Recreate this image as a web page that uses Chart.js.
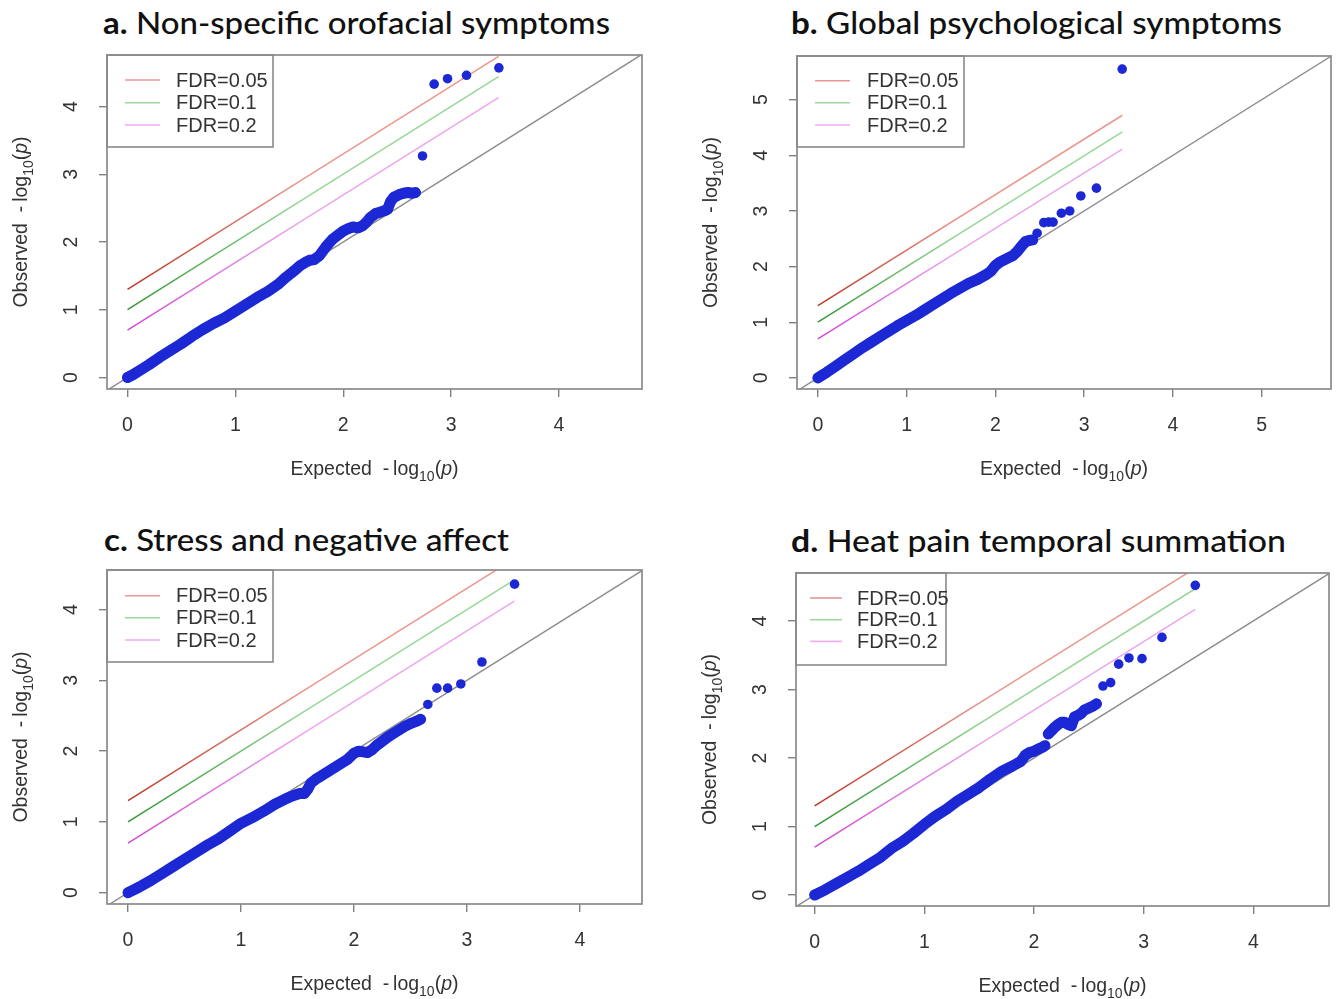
<!DOCTYPE html>
<html>
<head>
<meta charset="utf-8">
<script src="https://cdn.jsdelivr.net/npm/chart.js@4.4.1/dist/chart.umd.min.js"></script>
<style>
html,body{margin:0;padding:0;background:#fff;}
#page{position:relative;width:1341px;height:999px;overflow:hidden;background:#fff;}
.ttl{position:absolute;white-space:nowrap;font-family:Lato,"Open Sans",sans-serif;font-size:31px;font-weight:500;line-height:1.2;color:#111;transform-origin:0 0;}
.ttl b{font-weight:700;}
</style>
</head>
<body>
<div id="page"></div>
<script>
// ---------------- data ----------------
const panelKeys = ['a', 'b', 'c', 'd'];
const titleTags = ['a.', 'b.', 'c.', 'd.'];
const titleTexts = ['Non-specific orofacial symptoms', 'Global psychological symptoms', 'Stress and negative affect', 'Heat pain temporal summation'];
const xAxisWord = 'Expected';
const yAxisWord = 'Observed';
const fdrLabels = ['FDR=0.05', 'FDR=0.1', 'FDR=0.2'];
const fdrStartX = 0;
const fdrStartY = [1.3, 1.0, 0.7];

// panel a
const aXLim = [-0.19, 4.77];
const aYLim = [-0.17, 4.76];
const aXTicks = [0, 1, 2, 3, 4];
const aYTicks = [0, 1, 2, 3, 4];
const aBandX = [0, 0.05, 0.1, 0.2, 0.3, 0.4, 0.5, 0.6, 0.7, 0.8, 0.9, 1.0, 1.1, 1.2, 1.3, 1.4, 1.47, 1.55, 1.6, 1.65, 1.69, 1.73, 1.78, 1.84, 1.9, 1.95, 2.0, 2.05, 2.09, 2.14, 2.18, 2.22, 2.25, 2.3, 2.34, 2.38, 2.41, 2.44, 2.47, 2.52, 2.56, 2.6, 2.64, 2.67];
const aBandY = [0, 0.04, 0.09, 0.19, 0.3, 0.4, 0.5, 0.61, 0.71, 0.8, 0.88, 0.98, 1.08, 1.18, 1.27, 1.38, 1.48, 1.58, 1.65, 1.7, 1.73, 1.74, 1.8, 1.93, 2.04, 2.1, 2.16, 2.2, 2.22, 2.21, 2.24, 2.3, 2.36, 2.42, 2.44, 2.46, 2.48, 2.6, 2.66, 2.7, 2.72, 2.73, 2.72, 2.73];
const aTailX = [2.735, 2.843, 2.967, 3.143, 3.443];
const aTailY = [3.27, 4.33, 4.41, 4.46, 4.57];
const aFdrEndX = 3.44;
const aFdrEndY = [4.74, 4.44, 4.13];

// panel b
const bXLim = [-0.235, 5.78];
const bYLim = [-0.2, 5.785];
const bXTicks = [0, 1, 2, 3, 4, 5];
const bYTicks = [0, 1, 2, 3, 4, 5];
const bBandX = [0, 0.05, 0.1, 0.2, 0.3, 0.4, 0.5, 0.6, 0.7, 0.8, 0.9, 1.0, 1.1, 1.2, 1.3, 1.4, 1.5, 1.6, 1.7, 1.8, 1.9, 1.95, 2.0, 2.05, 2.1, 2.15, 2.2, 2.25, 2.3, 2.34, 2.38, 2.42];
const bBandY = [0, 0.05, 0.1, 0.21, 0.32, 0.43, 0.54, 0.64, 0.74, 0.84, 0.94, 1.03, 1.12, 1.22, 1.32, 1.42, 1.52, 1.61, 1.7, 1.77, 1.86, 1.92, 2.02, 2.08, 2.12, 2.16, 2.2, 2.28, 2.38, 2.45, 2.47, 2.48];
const bTailX = [2.47, 2.545, 2.6, 2.65, 2.743, 2.837, 2.962, 3.138, 3.428];
const bTailY = [2.6, 2.79, 2.8, 2.8, 2.96, 3.0, 3.27, 3.41, 5.55];
const bFdrEndX = 3.43;
const bFdrEndY = [4.72, 4.42, 4.11];

// panel c
const cXLim = [-0.186, 4.55];
const cYLim = [-0.16, 4.56];
const cXTicks = [0, 1, 2, 3, 4];
const cYTicks = [0, 1, 2, 3, 4];
const cBandX = [0, 0.05, 0.1, 0.2, 0.3, 0.4, 0.5, 0.6, 0.7, 0.8, 0.9, 1.0, 1.1, 1.2, 1.3, 1.4, 1.46, 1.52, 1.56, 1.59, 1.62, 1.66, 1.7, 1.76, 1.82, 1.88, 1.94, 2.0, 2.04, 2.08, 2.12, 2.16, 2.2, 2.25, 2.3, 2.35, 2.4, 2.45, 2.5, 2.55, 2.59];
const cBandY = [0, 0.04, 0.08, 0.17, 0.27, 0.37, 0.47, 0.57, 0.67, 0.76, 0.87, 0.98, 1.06, 1.15, 1.25, 1.33, 1.37, 1.4, 1.4, 1.46, 1.55, 1.6, 1.64, 1.7, 1.76, 1.82, 1.88, 1.97, 2.0, 1.99, 1.98, 2.02, 2.08, 2.14, 2.2, 2.25, 2.3, 2.35, 2.39, 2.42, 2.45];
const cTailX = [2.654, 2.734, 2.829, 2.946, 3.133, 3.422];
const cTailY = [2.66, 2.89, 2.89, 2.95, 3.26, 4.36];
const cFdrEndX = 3.42;
const cFdrEndY = [4.72, 4.42, 4.12];

// panel d
const dXLim = [-0.17, 4.69];
const dYLim = [-0.16, 4.70];
const dXTicks = [0, 1, 2, 3, 4];
const dYTicks = [0, 1, 2, 3, 4];
const dBandX = [0, 0.05, 0.1, 0.2, 0.3, 0.4, 0.5, 0.6, 0.7, 0.8, 0.9, 1.0, 1.1, 1.2, 1.3, 1.4, 1.5, 1.6, 1.7, 1.8, 1.88, 1.92, 1.96, 2.0, 2.04, 2.08, 2.1];
const dBandY = [0, 0.04, 0.08, 0.17, 0.26, 0.35, 0.45, 0.55, 0.68, 0.78, 0.9, 1.03, 1.15, 1.25, 1.37, 1.47, 1.57, 1.69, 1.8, 1.88, 1.95, 2.04, 2.08, 2.1, 2.13, 2.16, 2.18];
const dBand2X = [2.13, 2.16, 2.19, 2.22, 2.25, 2.28, 2.31, 2.34, 2.37, 2.4, 2.43, 2.46, 2.5, 2.54, 2.57];
const dBand2Y = [2.35, 2.4, 2.45, 2.49, 2.52, 2.52, 2.49, 2.47, 2.6, 2.62, 2.65, 2.7, 2.73, 2.76, 2.79];
const dTailX = [2.629, 2.699, 2.772, 2.866, 2.985, 3.167, 3.471];
const dTailY = [3.05, 3.1, 3.37, 3.46, 3.45, 3.76, 4.52];
const dFdrEndX = 3.47;
const dFdrEndY = [4.77, 4.47, 4.17];

// ---------------- layout & style ----------------
const FONT = '"Liberation Sans", Arial, Helvetica, sans-serif';
const BLUE = 'rgb(28,40,212)';
const GRAY = '#8a8a8a';
const TXT = '#333333';
const fdrDark = ['rgb(185,55,40)', 'rgb(50,150,50)', 'rgb(210,70,210)'];
const fdrLight = ['rgb(236,150,140)', 'rgb(150,215,150)', 'rgb(238,165,238)'];
const fdrKey = ['rgb(232,150,150)', 'rgb(160,215,160)', 'rgb(240,170,240)'];

const LAYOUT = {
  a: {cv: [0, 0, 670, 500], box: [107, 55, 642, 389], title: [103, 35, 507],
      legend: {w: 166, h: 92, x0: 18, x1: 53, tx: 69, rows: [25, 47.7, 70]}},
  b: {cv: [670, 0, 671, 500], box: [797, 56, 1331, 389], title: [791, 35, 491],
      legend: {w: 167, h: 91, x0: 18, x1: 53, tx: 70, rows: [24.7, 46.7, 69]}},
  c: {cv: [0, 500, 670, 499], box: [107, 570, 642, 904], title: [104, 552, 405],
      legend: {w: 166, h: 92, x0: 18, x1: 53, tx: 69, rows: [25.7, 47.7, 70]}},
  d: {cv: [670, 500, 671, 499], box: [796, 573, 1329, 906], title: [791, 553, 495],
      legend: {w: 150, h: 92, x0: 14, x1: 46, tx: 61, rows: [25, 46.7, 68.4]}}
};

const PANELS = {
  a: {xLim: aXLim, yLim: aYLim, xTicks: aXTicks, yTicks: aYTicks, bands: [[aBandX, aBandY]], tail: [aTailX, aTailY], fdrEndX: aFdrEndX, fdrEndY: aFdrEndY},
  b: {xLim: bXLim, yLim: bYLim, xTicks: bXTicks, yTicks: bYTicks, bands: [[bBandX, bBandY]], tail: [bTailX, bTailY], fdrEndX: bFdrEndX, fdrEndY: bFdrEndY},
  c: {xLim: cXLim, yLim: cYLim, xTicks: cXTicks, yTicks: cYTicks, bands: [[cBandX, cBandY]], tail: [cTailX, cTailY], fdrEndX: cFdrEndX, fdrEndY: cFdrEndY},
  d: {xLim: dXLim, yLim: dYLim, xTicks: dXTicks, yTicks: dYTicks, bands: [[dBandX, dBandY], [dBand2X, dBand2Y]], tail: [dTailX, dTailY], fdrEndX: dFdrEndX, fdrEndY: dFdrEndY}
};

const zip = (xs, ys) => xs.map((x, i) => ({x: x, y: ys[i]}));

function fade(dark, light) {
  return (c) => {
    const ch = c.chart;
    if (!ch.chartArea) return light;
    const x0 = ch.scales.x.getPixelForValue(0);
    const x1 = ch.scales.x.getPixelForValue(1.6);
    const g = ch.ctx.createLinearGradient(x0, 0, x1, 0);
    g.addColorStop(0, dark);
    g.addColorStop(1, light);
    return g;
  };
}

function drawAxisTitle(ctx, word, cx, cy, rot) {
  const s = 19.5;
  const fN = s + 'px ' + FONT;
  const fS = (s * 0.72).toFixed(1) + 'px ' + FONT;
  const fI = 'italic ' + s + 'px ' + FONT;
  const parts = [[word + '  -\u2009log', fN, 0], ['10', fS, s * 0.3], ['(', fN, 0], ['p', fI, 0], [')', fN, 0]];
  let total = 0;
  const widths = parts.map(p => { ctx.font = p[1]; const w = ctx.measureText(p[0]).width; total += w; return w; });
  ctx.save();
  ctx.translate(cx, cy);
  ctx.rotate(rot);
  ctx.fillStyle = TXT;
  ctx.textBaseline = 'alphabetic';
  ctx.textAlign = 'left';
  let x = -total / 2;
  const base = s * 0.716 / 2;
  parts.forEach((p, i) => { ctx.font = p[1]; ctx.fillText(p[0], x, base + p[2]); x += widths[i]; });
  ctx.restore();
}

const decor = {
  id: 'decor',
  afterDatasetsDraw(chart, args, o) {
    const ctx = chart.ctx, a = chart.chartArea;
    ctx.save();
    // legend
    const L = o.legend;
    ctx.fillStyle = '#fff';
    ctx.fillRect(a.left, a.top, L.w, L.h);
    ctx.strokeStyle = GRAY;
    ctx.lineWidth = 1.6;
    ctx.strokeRect(a.left, a.top, L.w, L.h);
    const items = chart.data.datasets.filter(d => d.keyColor);
    ctx.font = '20px ' + FONT;
    ctx.textBaseline = 'middle';
    ctx.textAlign = 'left';
    items.forEach((d, i) => {
      const y = a.top + L.rows[i];
      ctx.strokeStyle = d.keyColor;
      ctx.lineWidth = 1.6;
      ctx.beginPath();
      ctx.moveTo(a.left + L.x0, y);
      ctx.lineTo(a.left + L.x1, y);
      ctx.stroke();
      ctx.fillStyle = '#333';
      ctx.fillText(d.label, a.left + L.tx, y + 1);
    });
    // frame
    ctx.strokeStyle = GRAY;
    ctx.lineWidth = 1.7;
    ctx.strokeRect(a.left, a.top, a.right - a.left, a.bottom - a.top);
    ctx.restore();
    // axis titles
    drawAxisTitle(ctx, xAxisWord, (a.left + a.right) / 2, a.bottom + 79, 0);
    drawAxisTitle(ctx, yAxisWord, a.left - 87, (a.top + a.bottom) / 2, -Math.PI / 2);
  }
};

const page = document.getElementById('page');

panelKeys.forEach((k, idx) => {
  const P = PANELS[k], L = LAYOUT[k];
  const [cl, ct, cw, chh] = L.cv;
  const [bl, bt, br, bb] = L.box;

  // title
  const t = document.createElement('div');
  t.className = 'ttl';
  t.innerHTML = '<b>' + titleTags[idx] + '</b> ' + titleTexts[idx];
  page.appendChild(t);
  t.style.left = L.title[0] + 'px';
  t.style.top = (L.title[1] - 31 * 0.987) + 'px';
  const w = t.getBoundingClientRect().width;
  t.style.transform = 'scaleX(' + (L.title[2] / w).toFixed(4) + ')';

  const cv = document.createElement('canvas');
  cv.width = cw; cv.height = chh;
  cv.style.cssText = 'position:absolute;left:' + cl + 'px;top:' + ct + 'px;width:' + cw + 'px;height:' + chh + 'px;';
  page.appendChild(cv);

  const datasets = [];
  datasets.push({label: 'tail', data: zip(P.tail[0], P.tail[1]), showLine: false,
    pointRadius: 4.8, pointBorderWidth: 0, backgroundColor: BLUE, borderColor: BLUE});
  P.bands.forEach(b => datasets.push({label: 'band', data: zip(b[0], b[1]), showLine: true,
    borderColor: BLUE, borderWidth: 11, borderCapStyle: 'round', borderJoinStyle: 'round',
    pointRadius: 5, pointBorderWidth: 0, backgroundColor: BLUE}));
  fdrLabels.forEach((lab, i) => datasets.push({label: lab, keyColor: fdrKey[i],
    data: [{x: fdrStartX, y: fdrStartY[i]}, {x: P.fdrEndX, y: P.fdrEndY[i]}],
    showLine: true, pointRadius: 0, borderWidth: 1.5, borderColor: fade(fdrDark[i], fdrLight[i])}));
  datasets.push({label: 'diag', data: [{x: P.xLim[0], y: P.xLim[0]}, {x: P.xLim[1], y: P.xLim[1]}],
    showLine: true, pointRadius: 0, borderWidth: 1.4, borderColor: '#8c8c8c'});

  new Chart(cv, {
    type: 'scatter',
    data: {datasets: datasets},
    plugins: [decor],
    options: {
      responsive: false,
      animation: false,
      devicePixelRatio: 1,
      layout: {padding: {top: bt - ct, right: cl + cw - br, left: 0, bottom: 0}},
      plugins: {
        legend: {display: false},
        tooltip: {enabled: false},
        decor: {legend: L.legend}
      },
      scales: {
        x: {
          type: 'linear', position: 'bottom', min: P.xLim[0], max: P.xLim[1],
          afterBuildTicks: s => { s.ticks = P.xTicks.map(v => ({value: v})); },
          afterFit: s => { s.height = ct + chh - bb; },
          grid: {drawOnChartArea: false, drawTicks: true, tickLength: 8, color: '#808080', lineWidth: 1.4},
          border: {display: false},
          ticks: {font: {family: FONT, size: 19.5}, color: TXT, padding: 16.5, minRotation: 0, maxRotation: 0, autoSkip: false, callback: v => String(v)}
        },
        y: {
          type: 'linear', position: 'left', min: P.yLim[0], max: P.yLim[1],
          afterBuildTicks: s => { s.ticks = P.yTicks.map(v => ({value: v})); },
          afterFit: s => { s.width = bl - cl; },
          grid: {drawOnChartArea: false, drawTicks: true, tickLength: 8, color: '#808080', lineWidth: 1.4},
          border: {display: false},
          ticks: {font: {family: FONT, size: 19.5}, color: TXT, padding: 22, minRotation: 90, maxRotation: 90, crossAlign: 'center', autoSkip: false, callback: v => String(v)}
        }
      }
    }
  });
});
</script>
</body>
</html>
